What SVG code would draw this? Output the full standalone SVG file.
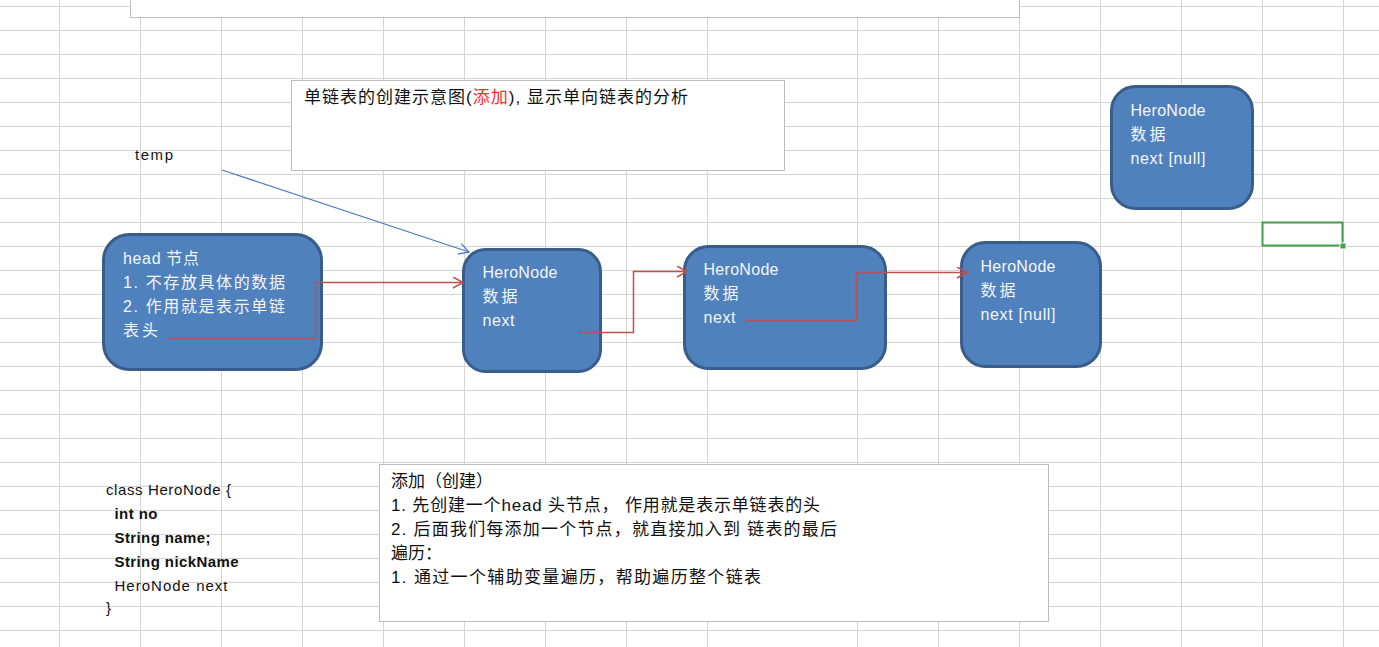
<svg xmlns="http://www.w3.org/2000/svg" width="1379" height="647" viewBox="0 0 1379 647">
<style>
.grid line{stroke:#d4d4d4;stroke-width:1}
.box{fill:#fff;stroke:#bdbdbd;stroke-width:1}
.node{fill:#4f81bd;stroke:#385d8a;stroke-width:3}
.nt{font-family:"Liberation Sans","Noto Sans CJK SC",sans-serif;font-size:16px;fill:#f4f6fb}
.bt{font-family:"Liberation Sans","Noto Sans CJK SC",sans-serif;font-size:17px;fill:#111}
.ct{font-family:"Liberation Sans","Noto Sans CJK SC",sans-serif;font-size:15px;fill:#111}
.b{font-weight:bold}
.red{stroke:#c0504d;stroke-width:1.5;fill:none}
.blue{stroke:#4a7ebb;stroke-width:1.3;fill:none}
</style>
<defs>
<marker id="ar" markerUnits="userSpaceOnUse" markerWidth="14" markerHeight="14" refX="11" refY="6" orient="auto">
<path d="M1,0.5 L11,6 L1,11.5" fill="none" stroke="#c0504d" stroke-width="1.5"/>
</marker>
<marker id="ab" markerUnits="userSpaceOnUse" markerWidth="14" markerHeight="14" refX="11" refY="6" orient="auto">
<path d="M1,0.5 L11,6 L1,11.5" fill="none" stroke="#4a7ebb" stroke-width="1.3"/>
</marker>
</defs>
<rect width="1379" height="647" fill="#fff"/>
<g class="grid">
<line x1="59.5" y1="0" x2="59.5" y2="647"/>
<line x1="140.5" y1="0" x2="140.5" y2="647"/>
<line x1="221.5" y1="0" x2="221.5" y2="647"/>
<line x1="302.5" y1="0" x2="302.5" y2="647"/>
<line x1="383.5" y1="0" x2="383.5" y2="647"/>
<line x1="464.5" y1="0" x2="464.5" y2="647"/>
<line x1="545.5" y1="0" x2="545.5" y2="647"/>
<line x1="626.5" y1="0" x2="626.5" y2="647"/>
<line x1="707.5" y1="0" x2="707.5" y2="647"/>
<line x1="857.5" y1="0" x2="857.5" y2="647"/>
<line x1="938.5" y1="0" x2="938.5" y2="647"/>
<line x1="1019.5" y1="0" x2="1019.5" y2="647"/>
<line x1="1100.5" y1="0" x2="1100.5" y2="647"/>
<line x1="1181.5" y1="0" x2="1181.5" y2="647"/>
<line x1="1262.5" y1="0" x2="1262.5" y2="647"/>
<line x1="1343.5" y1="0" x2="1343.5" y2="647"/>
<line x1="0" y1="6.5" x2="1379" y2="6.5"/>
<line x1="0" y1="30.5" x2="1379" y2="30.5"/>
<line x1="0" y1="54.5" x2="1379" y2="54.5"/>
<line x1="0" y1="78.5" x2="1379" y2="78.5"/>
<line x1="0" y1="102.5" x2="1379" y2="102.5"/>
<line x1="0" y1="126.5" x2="1379" y2="126.5"/>
<line x1="0" y1="150.5" x2="1379" y2="150.5"/>
<line x1="0" y1="174.5" x2="1379" y2="174.5"/>
<line x1="0" y1="198.5" x2="1379" y2="198.5"/>
<line x1="0" y1="222.5" x2="1379" y2="222.5"/>
<line x1="0" y1="246.5" x2="1379" y2="246.5"/>
<line x1="0" y1="270.5" x2="1379" y2="270.5"/>
<line x1="0" y1="294.5" x2="1379" y2="294.5"/>
<line x1="0" y1="318.5" x2="1379" y2="318.5"/>
<line x1="0" y1="342.5" x2="1379" y2="342.5"/>
<line x1="0" y1="366.5" x2="1379" y2="366.5"/>
<line x1="0" y1="390.5" x2="1379" y2="390.5"/>
<line x1="0" y1="414.5" x2="1379" y2="414.5"/>
<line x1="0" y1="438.5" x2="1379" y2="438.5"/>
<line x1="0" y1="462.5" x2="1379" y2="462.5"/>
<line x1="0" y1="486.5" x2="1379" y2="486.5"/>
<line x1="0" y1="510.5" x2="1379" y2="510.5"/>
<line x1="0" y1="534.5" x2="1379" y2="534.5"/>
<line x1="0" y1="558.5" x2="1379" y2="558.5"/>
<line x1="0" y1="582.5" x2="1379" y2="582.5"/>
<line x1="0" y1="606.5" x2="1379" y2="606.5"/>
<line x1="0" y1="630.5" x2="1379" y2="630.5"/>
</g>
<g id="top-box"><rect class="box" x="130.5" y="-2" width="889" height="19.5"/></g>
<g id="title">
<rect class="box" x="291.5" y="80.5" width="493" height="90"/>
<text class="bt" x="304" y="103" textLength="384" lengthAdjust="spacing">单链表的创建示意图(<tspan fill="#ff2a2a">添加</tspan>), 显示单向链表的分析</text>
</g>
<g id="temp"><text class="ct" x="135" y="160" textLength="38" lengthAdjust="spacing">temp</text></g>
<g id="head-node">
<rect class="node" x="103.5" y="234.5" width="218" height="135" rx="26"/>
<text class="nt" x="123" y="264" textLength="76" lengthAdjust="spacing">head 节点</text>
<text class="nt" x="123" y="288" textLength="162" lengthAdjust="spacing">1. 不存放具体的数据</text>
<text class="nt" x="123" y="312" textLength="162" lengthAdjust="spacing">2. 作用就是表示单链</text>
<text class="nt" x="123" y="336" textLength="35" lengthAdjust="spacing">表头</text>
</g>
<g id="node-2">
<rect class="node" x="463.5" y="249.5" width="137" height="122" rx="22"/>
<text class="nt" x="482.5" y="278" textLength="75" lengthAdjust="spacing">HeroNode</text>
<text class="nt" x="482.5" y="302" textLength="35" lengthAdjust="spacing">数据</text>
<text class="nt" x="482.5" y="326" textLength="32" lengthAdjust="spacing">next</text>
</g>
<g id="node-3">
<rect class="node" x="684.5" y="246.5" width="201" height="122" rx="24"/>
<text class="nt" x="703.5" y="275" textLength="75" lengthAdjust="spacing">HeroNode</text>
<text class="nt" x="703.5" y="299" textLength="35" lengthAdjust="spacing">数据</text>
<text class="nt" x="703.5" y="323" textLength="32" lengthAdjust="spacing">next</text>
</g>
<g id="node-4">
<rect class="node" x="961.5" y="242.5" width="139" height="124" rx="24"/>
<text class="nt" x="980.5" y="272" textLength="75" lengthAdjust="spacing">HeroNode</text>
<text class="nt" x="980.5" y="296" textLength="35" lengthAdjust="spacing">数据</text>
<text class="nt" x="980.5" y="320" textLength="75" lengthAdjust="spacing">next [null]</text>
</g>
<g id="node-5">
<rect class="node" x="1111.5" y="86.5" width="141" height="122" rx="24"/>
<text class="nt" x="1130.5" y="116" textLength="75" lengthAdjust="spacing">HeroNode</text>
<text class="nt" x="1130.5" y="140" textLength="35" lengthAdjust="spacing">数据</text>
<text class="nt" x="1130.5" y="164" textLength="75" lengthAdjust="spacing">next [null]</text>
</g>
<g id="connectors">
<path class="blue" d="M222,170 L469,252" marker-end="url(#ab)"/>
<path class="red" d="M167,338.5 H315.5 V282.5 H463" marker-end="url(#ar)"/>
<path class="red" d="M579,332.5 H633.5 V271.5 H687" marker-end="url(#ar)"/>
<path class="red" d="M746,320.5 H856.5 V272.5 H967" marker-end="url(#ar)"/>
</g>
<g id="class-def">
<text class="ct" x="106" y="495" textLength="125" lengthAdjust="spacing">class HeroNode {</text>
<text class="ct b" x="114.5" y="519" textLength="43" lengthAdjust="spacing">int no</text>
<text class="ct b" x="114.5" y="543" textLength="96" lengthAdjust="spacing">String name;</text>
<text class="ct b" x="114.5" y="567" textLength="124" lengthAdjust="spacing">String nickName</text>
<text class="ct" x="114.5" y="591" textLength="113" lengthAdjust="spacing">HeroNode next</text>
<text class="ct" x="106" y="613">}</text>
</g>
<g id="desc-box">
<rect class="box" x="379.5" y="464.5" width="669" height="157"/>
<text class="bt" x="391" y="487" textLength="102" lengthAdjust="spacing">添加（创建）</text>
<text class="bt" x="391" y="511" textLength="429" lengthAdjust="spacing">1. 先创建一个head 头节点， 作用就是表示单链表的头</text>
<text class="bt" x="391" y="535" textLength="446" lengthAdjust="spacing">2. 后面我们每添加一个节点，就直接加入到 链表的最后</text>
<text class="bt" x="391" y="559">遍历：</text>
<text class="bt" x="391" y="583" textLength="370" lengthAdjust="spacing">1.  通过一个辅助变量遍历，帮助遍历整个链表</text>
</g>
<g id="selection">
<rect x="1262.5" y="222.5" width="80" height="23" fill="none" stroke="#43a047" stroke-width="2"/>
<rect x="1340" y="243" width="6" height="6" fill="#43a047" stroke="#fff" stroke-width="1"/>
</g>
</svg>
